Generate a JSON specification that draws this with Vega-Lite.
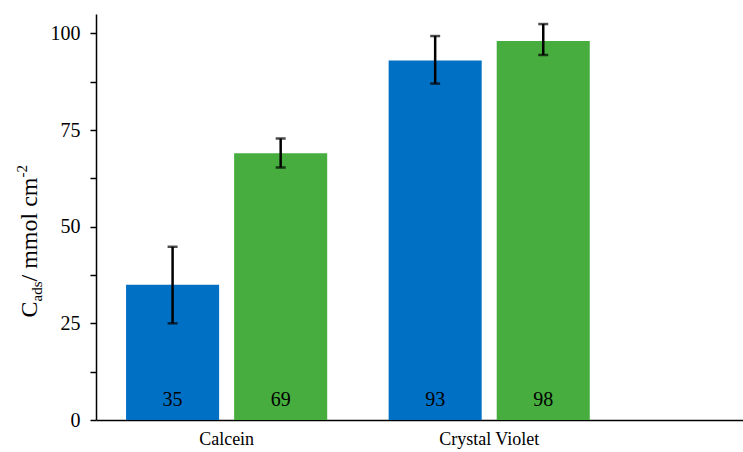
{
  "$schema": "https://vega.github.io/schema/vega-lite/v6.json",
  "width": 647,
  "height": 406,
  "autosize": {"type": "none"},
  "padding": {"left": 96, "top": 14, "right": 0, "bottom": 32},
  "background": "white",
  "config": {
    "view": {"stroke": null},
    "font": "Liberation Serif",
    "axis": {"grid": false, "domainColor": "black", "domainWidth": 1.5, "tickColor": "black", "labelColor": "black", "titleColor": "black", "labelFont": "Liberation Serif", "titleFont": "Liberation Serif", "titleFontWeight": "normal"}
  },
  "data": {
    "values": [
      {"cat": "Calcein", "series": "A", "v": 35, "lo": 25, "hi": 44.8},
      {"cat": "Calcein", "series": "B", "v": 69, "lo": 65.3, "hi": 72.8},
      {"cat": "Crystal Violet", "series": "A", "v": 93, "lo": 87, "hi": 99.3},
      {"cat": "Crystal Violet", "series": "B", "v": 98, "lo": 94.4, "hi": 102.4}
    ]
  },
  "encoding": {
    "x": {
      "field": "cat", "type": "nominal", "sort": ["Calcein", "Crystal Violet"],
      "scale": {"paddingInner": 0.234, "paddingOuter": 0.349, "align": 0.164, "round": false},
      "axis": {"title": null, "labelAngle": 0, "ticks": false, "tickSize": 0, "labelPadding": 10, "labelFontSize": 18, "labelBaseline": "top"}
    },
    "xOffset": {"field": "series", "type": "nominal", "scale": {"paddingInner": 0.139, "paddingOuter": 0, "round": false}}
  },
  "layer": [
    {
      "mark": {"type": "bar"},
      "encoding": {
        "y": {
          "field": "v", "type": "quantitative",
          "scale": {"domain": [0, 105], "nice": false},
          "axis": {
            "orient": "left",
            "values": [0, 12.5, 25, 37.5, 50, 62.5, 75, 87.5, 100],
            "labelExpr": "datum.value % 25 == 0 ? datum.label : ''",
            "tickSize": 6, "tickWidth": 1.5, "labelPadding": 10, "labelFontSize": 20,
            "title": "C", "titleFontSize": 24, "titleAngle": -90, "titleAlign": "left", "titleBaseline": "alphabetic",
            "titleX": -60, "titleY": 303
          }
        },
        "color": {"field": "series", "type": "nominal", "scale": {"domain": ["A", "B"], "range": ["#0070c4", "#46ad3e"]}, "legend": null}
      }
    },
    {
      "mark": {"type": "rule", "strokeWidth": 2.5, "color": "black"},
      "encoding": {
        "y": {
          "field": "lo", "type": "quantitative",
          "scale": {"domain": [0, 105], "nice": false},
          "axis": {"orient": "left", "labels": false, "ticks": false, "domain": false, "title": "ads", "titleFontSize": 15, "titleAngle": -90, "titleAlign": "left", "titleBaseline": "alphabetic", "titleX": -55, "titleY": 287}
        },
        "y2": {"field": "hi"}
      }
    },
    {
      "mark": {"type": "tick", "thickness": 2.5, "size": 10, "color": "black"},
      "encoding": {
        "y": {
          "field": "lo", "type": "quantitative",
          "scale": {"domain": [0, 105], "nice": false},
          "axis": {"orient": "left", "labels": false, "ticks": false, "domain": false, "title": "/ mmol cm", "titleFontSize": 24, "titleAngle": -90, "titleAlign": "left", "titleBaseline": "alphabetic", "titleX": -60, "titleY": 267}
        }
      }
    },
    {
      "mark": {"type": "tick", "thickness": 2.5, "size": 10, "color": "black"},
      "encoding": {
        "y": {
          "field": "hi", "type": "quantitative",
          "scale": {"domain": [0, 105], "nice": false},
          "axis": {"orient": "left", "labels": false, "ticks": false, "domain": false, "title": "-2", "titleFontSize": 15, "titleAngle": -90, "titleAlign": "left", "titleBaseline": "alphabetic", "titleX": -70, "titleY": 163}
        }
      }
    },
    {
      "mark": {"type": "text", "fontSize": 20, "color": "black", "baseline": "middle", "dy": -20},
      "encoding": {
        "y": {"datum": 0, "type": "quantitative", "scale": {"domain": [0, 105], "nice": false}, "axis": null},
        "text": {"field": "v", "type": "quantitative"}
      }
    }
  ],
  "resolve": {"axis": {"y": "independent"}}
}
